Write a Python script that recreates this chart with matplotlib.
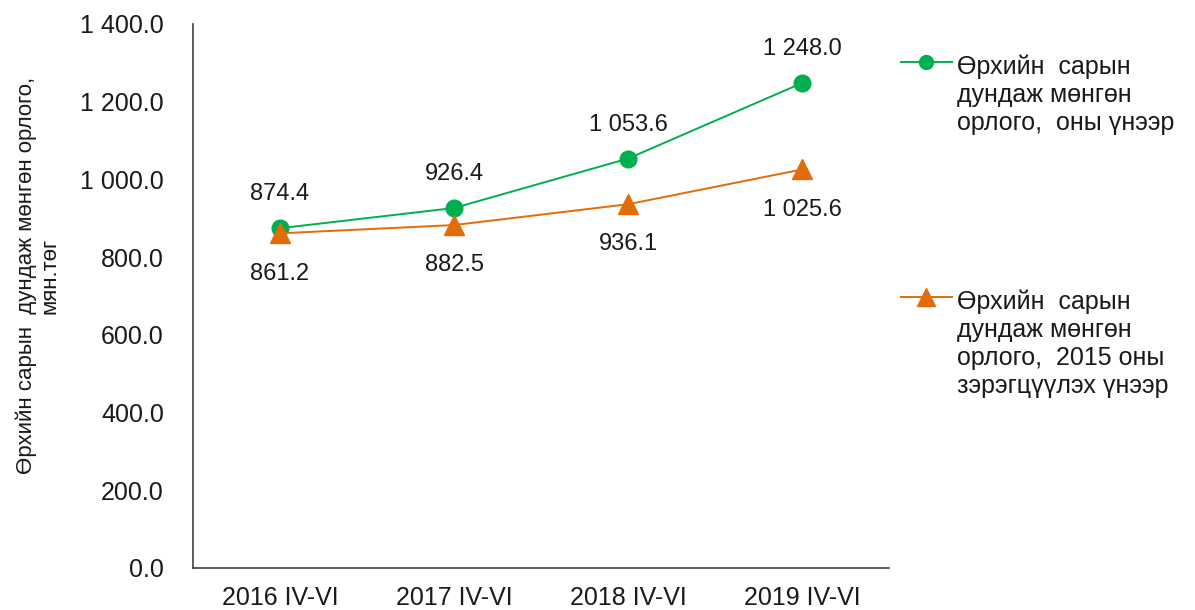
import matplotlib
matplotlib.use('Agg')
from matplotlib import pyplot as plt
from matplotlib.lines import Line2D

# data
periods = ['2016 IV-VI', '2017 IV-VI', '2018 IV-VI', '2019 IV-VI']
nominalIncome = [874.4, 926.4, 1053.6, 1248.0]
realIncome = [861.2, 882.5, 936.1, 1025.6]
nominalLabel = 'Өрхийн  сарын\nдундаж мөнгөн\nорлого,  оны үнээр'
realLabel = 'Өрхийн  сарын\nдундаж мөнгөн\nорлого,  2015 оны\nзэрэгцүүлэх үнээр'
yLabel = 'Өрхийн сарын  дундаж мөнгөн орлого,\nмян.төг'
yTicks = [0, 200, 400, 600, 800, 1000, 1200, 1400]

plt.rcParams['font.family'] = ['Liberation Sans', 'DejaVu Sans']

GREEN = '#00b050'
ORANGE = '#e36c09'
TXT = '#1a1a1a'


def fmt(v):
    # thousands separated by a space, one decimal
    return '{:,.1f}'.format(v).replace(',', ' ')


fig = plt.figure(figsize=(11.95, 6.1), dpi=100)
ax = fig.add_axes([0.1615, 0.0689, 0.5825, 0.8918])

x = list(range(len(periods)))
ax.plot(x, nominalIncome, color=GREEN, lw=1.4, marker='o', ms=12)
ax.plot(x, realIncome, color=ORANGE, lw=1.4, marker='^', ms=15)

for i, v in enumerate(nominalIncome):
    ax.annotate(fmt(v), (i, v), xytext=(0, 16.5), textcoords='offset points',
                ha='center', va='bottom', fontsize=17, color=TXT)
for i, v in enumerate(realIncome):
    ax.annotate(fmt(v), (i, v), xytext=(0, -21), textcoords='offset points',
                ha='center', va='top', fontsize=17, color=TXT)

ax.set_xlim(-0.5, len(periods) - 0.5)
ax.set_ylim(0, 1400)
ax.set_xticks(x)
ax.set_xticklabels(periods, fontsize=18, color=TXT)
ax.set_yticks(yTicks)
ax.set_yticklabels([fmt(t) for t in yTicks], fontsize=18, color=TXT)
ax.tick_params(length=0)
ax.tick_params(axis='y', pad=21)
ax.tick_params(axis='x', pad=13)

for s in ['top', 'right']:
    ax.spines[s].set_visible(False)
for s in ['left', 'bottom']:
    ax.spines[s].set_color('#404040')
    ax.spines[s].set_linewidth(1.2)

ax.set_ylabel(yLabel, fontsize=16, color=TXT, linespacing=1.2)
ax.yaxis.set_label_coords(-0.19, 0.537)

# legend drawn by hand so the key sits on the first text line
for yk, yt, col, mk, ms, lab in [(0.898, 0.910, GREEN, 'o', 10, nominalLabel),
                                 (0.513, 0.525, ORANGE, '^', 13, realLabel)]:
    fig.add_artist(Line2D([0.754, 0.797], [yk, yk], color=col, lw=1.4,
                          transform=fig.transFigure))
    fig.add_artist(Line2D([0.775], [yk], color=col, marker=mk, ms=ms,
                          transform=fig.transFigure))
    fig.text(0.801, yt, lab, fontsize=18, color=TXT, ha='left', va='top',
             linespacing=1.2)

fig.savefig('out.png', dpi=100)
